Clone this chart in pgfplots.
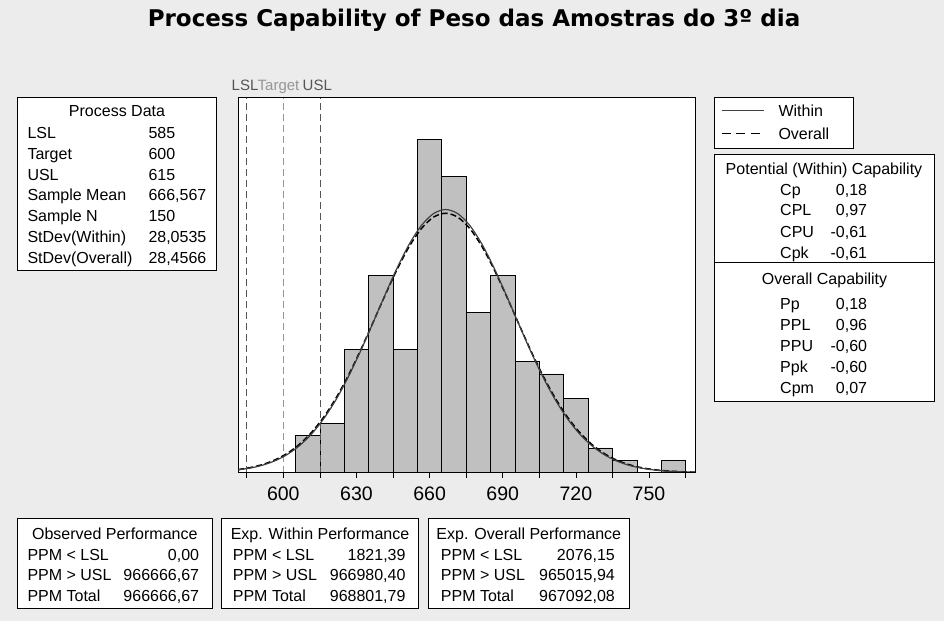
\documentclass[border=0pt]{standalone}
\usepackage{pgfplots}
\pgfplotsset{compat=1.18}
\usepackage{fontspec}
\setmainfont{Liberation Sans}
\newfontfamily\titlefont{DejaVu Sans}
\definecolor{bg}{RGB}{236,236,236}
\definecolor{bars}{RGB}{192,192,192}
\definecolor{specdark}{RGB}{85,85,85}
\definecolor{speclight}{RGB}{150,150,150}
\newcommand{\bx}{\fontsize{16}{20}\selectfont}
\begin{document}
\begin{tikzpicture}[x=1pt,y=1pt,
  lt/.style={anchor=base west, inner sep=0pt, font=\bx},
  rt/.style={anchor=base east, inner sep=0pt, font=\bx},
  ct/.style={anchor=base, inner sep=0pt, font=\bx}]
\useasboundingbox (0,0) rectangle (944,-621);
\fill[bg] (0,0) rectangle (944,-621);
% title
\node[anchor=base, inner sep=0pt, font=\titlefont\bfseries\fontsize{23}{23}\selectfont] at (474,-26.7) {Process Capability of Peso das Amostras do 3º dia};

\begin{axis}[name=ax,
  at={(238.3pt,-472.5pt)}, anchor=south west,
  scale only axis, width=456.7pt, height=374.8pt,
  xmin=581.54, xmax=768.87, ymin=0, ymax=30.4,
  axis background/.style={fill=white},
  ytick=\empty,
  xtick={600,630,...,750},
  minor xtick={585,615,...,765},
  xtick pos=bottom,
  tick align=outside,
  major tick length=5pt, minor tick length=5pt,
  tick style={black, line width=0.6pt},
  axis line style={black, line width=0.6pt},
  x tick label style={font=\fontsize{19.5}{19.5}\selectfont, yshift=-6pt, /pgf/number format/assume math mode=true},
  /pgf/number format/set thousands separator={},
]
\addplot[ybar interval, fill=bars, draw=black, line width=0.6pt] coordinates {
(605,3) (615,4) (625,10) (635,16) (645,10) (655,27) (665,24) (675,13)
(685,16) (695,9) (705,8) (715,6) (725,2) (735,1) (745,0) (755,1) (765,1)};
% spec lines
\addplot[specdark, line width=0.6pt, dash pattern=on 7pt off 4pt] coordinates {(585,0) (585,30.4)};
\addplot[speclight, line width=0.6pt, dash pattern=on 7pt off 4pt] coordinates {(600,0) (600,30.4)};
\addplot[specdark, line width=0.6pt, dash pattern=on 7pt off 4pt] coordinates {(615,0) (615,30.4)};
% overall (dashed)
\addplot[black, line width=1.5pt, dash pattern=on 6pt off 3pt, smooth] coordinates {
(581.567,0.2429) (586.567,0.404) (591.567,0.652) (596.567,1.020) (601.567,1.548)
(606.567,2.277) (611.567,3.249) (616.567,4.492) (621.567,6.023) (626.567,7.830)
(631.567,9.870) (636.567,12.063) (641.567,14.296) (646.567,16.427) (651.567,18.301)
(656.567,19.770) (661.567,20.707) (666.567,21.029) (671.567,20.707) (676.567,19.770)
(681.567,18.301) (686.567,16.427) (691.567,14.296) (696.567,12.063) (701.567,9.870)
(706.567,7.830) (711.567,6.023) (716.567,4.492) (721.567,3.249) (726.567,2.277)
(731.567,1.548) (736.567,1.020) (741.567,0.652) (746.567,0.404) (751.567,0.2429)
(756.567,0.1415) (761.567,0.0799) (766.567,0.0438) (771.567,0.0232)};
% within (solid)
\addplot[black!75, line width=1.2pt, smooth] coordinates {
(581.567,0.2166) (586.567,0.366) (591.567,0.5985) (596.567,0.948) (601.567,1.457)
(606.567,2.166) (611.567,3.122) (616.567,4.358) (621.567,5.892) (626.567,7.719)
(631.567,9.795) (636.567,12.042) (641.567,14.340) (646.567,16.545) (651.567,18.490)
(656.567,20.018) (661.567,20.995) (666.567,21.331) (671.567,20.995) (676.567,20.018)
(681.567,18.490) (686.567,16.545) (691.567,14.340) (696.567,12.042) (701.567,9.795)
(706.567,7.719) (711.567,5.892) (716.567,4.358) (721.567,3.122) (726.567,2.166)
(731.567,1.457) (736.567,0.948) (741.567,0.5985) (746.567,0.366) (751.567,0.2166)
(756.567,0.1242) (761.567,0.0690) (766.567,0.0371) (771.567,0.0194)};
\end{axis}
\draw[black, line width=1.4pt] (ax.south west) -- (ax.south east);

% spec labels
\node[anchor=base west, inner sep=0pt, text=specdark, font=\fontsize{15}{15}\selectfont] at (231.5,-90.7) {LSL};
\node[anchor=base west, inner sep=0pt, text=speclight, font=\fontsize{15}{15}\selectfont] at (257.5,-90.7) {Target};
\node[anchor=base west, inner sep=0pt, text=specdark, font=\fontsize{15}{15}\selectfont] at (302.5,-90.7) {USL};

% Process Data box
\draw[black, line width=0.8pt, fill=white] (17.3,-97.3) rectangle (216.5,-270.5);
\node[ct] at (117,-116.4) {Process Data};
\node[lt] at (27.3,-138.4) {LSL};            \node[lt] at (148.3,-138.4) {585};
\node[lt] at (27.3,-159.2) {Target};         \node[lt] at (148.3,-159.2) {600};
\node[lt] at (27.3,-180.0) {USL};            \node[lt] at (148.3,-180.0) {615};
\node[lt] at (27.3,-200.8) {Sample Mean};    \node[lt] at (148.3,-200.8) {666,567};
\node[lt] at (27.3,-221.6) {Sample N};       \node[lt] at (148.3,-221.6) {150};
\node[lt] at (27.3,-242.4) {StDev(Within)};  \node[lt] at (148.3,-242.4) {28,0535};
\node[lt] at (27.3,-263.2) {StDev(Overall)}; \node[lt] at (148.3,-263.2) {28,4566};

% Legend box
\draw[black, line width=0.8pt, fill=white] (714,-97.3) rectangle (853.3,-148.3);
\draw[black!75, line width=1.3pt] (721.7,-110.7) -- (764.3,-110.7);
\draw[black, line width=1.6pt, dash pattern=on 9pt off 5.5pt] (721.7,-133.3) -- (764.3,-133.3);
\node[lt] at (778.3,-116.4) {Within};
\node[lt] at (778.3,-139) {Overall};

% Capability box
\draw[black, line width=0.8pt, fill=white] (714,-154.3) rectangle (934,-401.7);
\draw[black, line width=0.8pt] (714,-262.3) -- (934,-262.3);
\node[ct] at (824,-174) {Potential (Within) Capability};
\node[lt] at (780,-195)   {Cp};  \node[rt] at (867.3,-195)   {0,18};
\node[lt] at (780,-215.7) {CPL}; \node[rt] at (867.3,-215.7) {0,97};
\node[lt] at (780,-237.4) {CPU}; \node[rt] at (867.3,-237.4) {-0,61};
\node[lt] at (780,-258)   {Cpk}; \node[rt] at (867.3,-258)   {-0,61};
\node[ct] at (824.5,-284) {Overall Capability};
\node[lt] at (780,-309.7) {Pp};  \node[rt] at (867.3,-309.7) {0,18};
\node[lt] at (780,-330.7) {PPL}; \node[rt] at (867.3,-330.7) {0,96};
\node[lt] at (780,-351.7) {PPU}; \node[rt] at (867.3,-351.7) {-0,60};
\node[lt] at (780,-372.4) {Ppk}; \node[rt] at (867.3,-372.4) {-0,60};
\node[lt] at (780,-393.4) {Cpm}; \node[rt] at (867.3,-393.4) {0,07};

% Bottom boxes
\draw[black, line width=0.8pt, fill=white] (17.3,-518.3) rectangle (212.3,-608.3);
\node[ct] at (114.8,-539) {Observed Performance};
\node[lt] at (27.3,-560)   {PPM < LSL};   \node[rt] at (199.3,-560)   {0,00};
\node[lt] at (27.3,-580.7) {PPM > USL};   \node[rt] at (199.3,-580.7) {966666,67};
\node[lt] at (27.3,-601.4) {PPM Total};   \node[rt] at (199.3,-601.4) {966666,67};

\draw[black, line width=0.8pt, fill=white] (221.7,-518.3) rectangle (418.3,-608.3);
\node[ct] at (320,-539) {Exp. Within Performance};
\node[lt] at (232.7,-560)   {PPM < LSL};   \node[rt] at (405.7,-560)   {1821,39};
\node[lt] at (232.7,-580.7) {PPM > USL};   \node[rt] at (405.7,-580.7) {966980,40};
\node[lt] at (232.7,-601.4) {PPM Total};   \node[rt] at (405.7,-601.4) {968801,79};

\draw[black, line width=0.8pt, fill=white] (428.3,-518.3) rectangle (629.3,-608.3);
\node[ct] at (528.8,-539) {Exp. Overall Performance};
\node[lt] at (440.7,-560)   {PPM < LSL};   \node[rt] at (615,-560)   {2076,15};
\node[lt] at (440.7,-580.7) {PPM > USL};   \node[rt] at (615,-580.7) {965015,94};
\node[lt] at (440.7,-601.4) {PPM Total};   \node[rt] at (615,-601.4) {967092,08};
\end{tikzpicture}
\end{document}
